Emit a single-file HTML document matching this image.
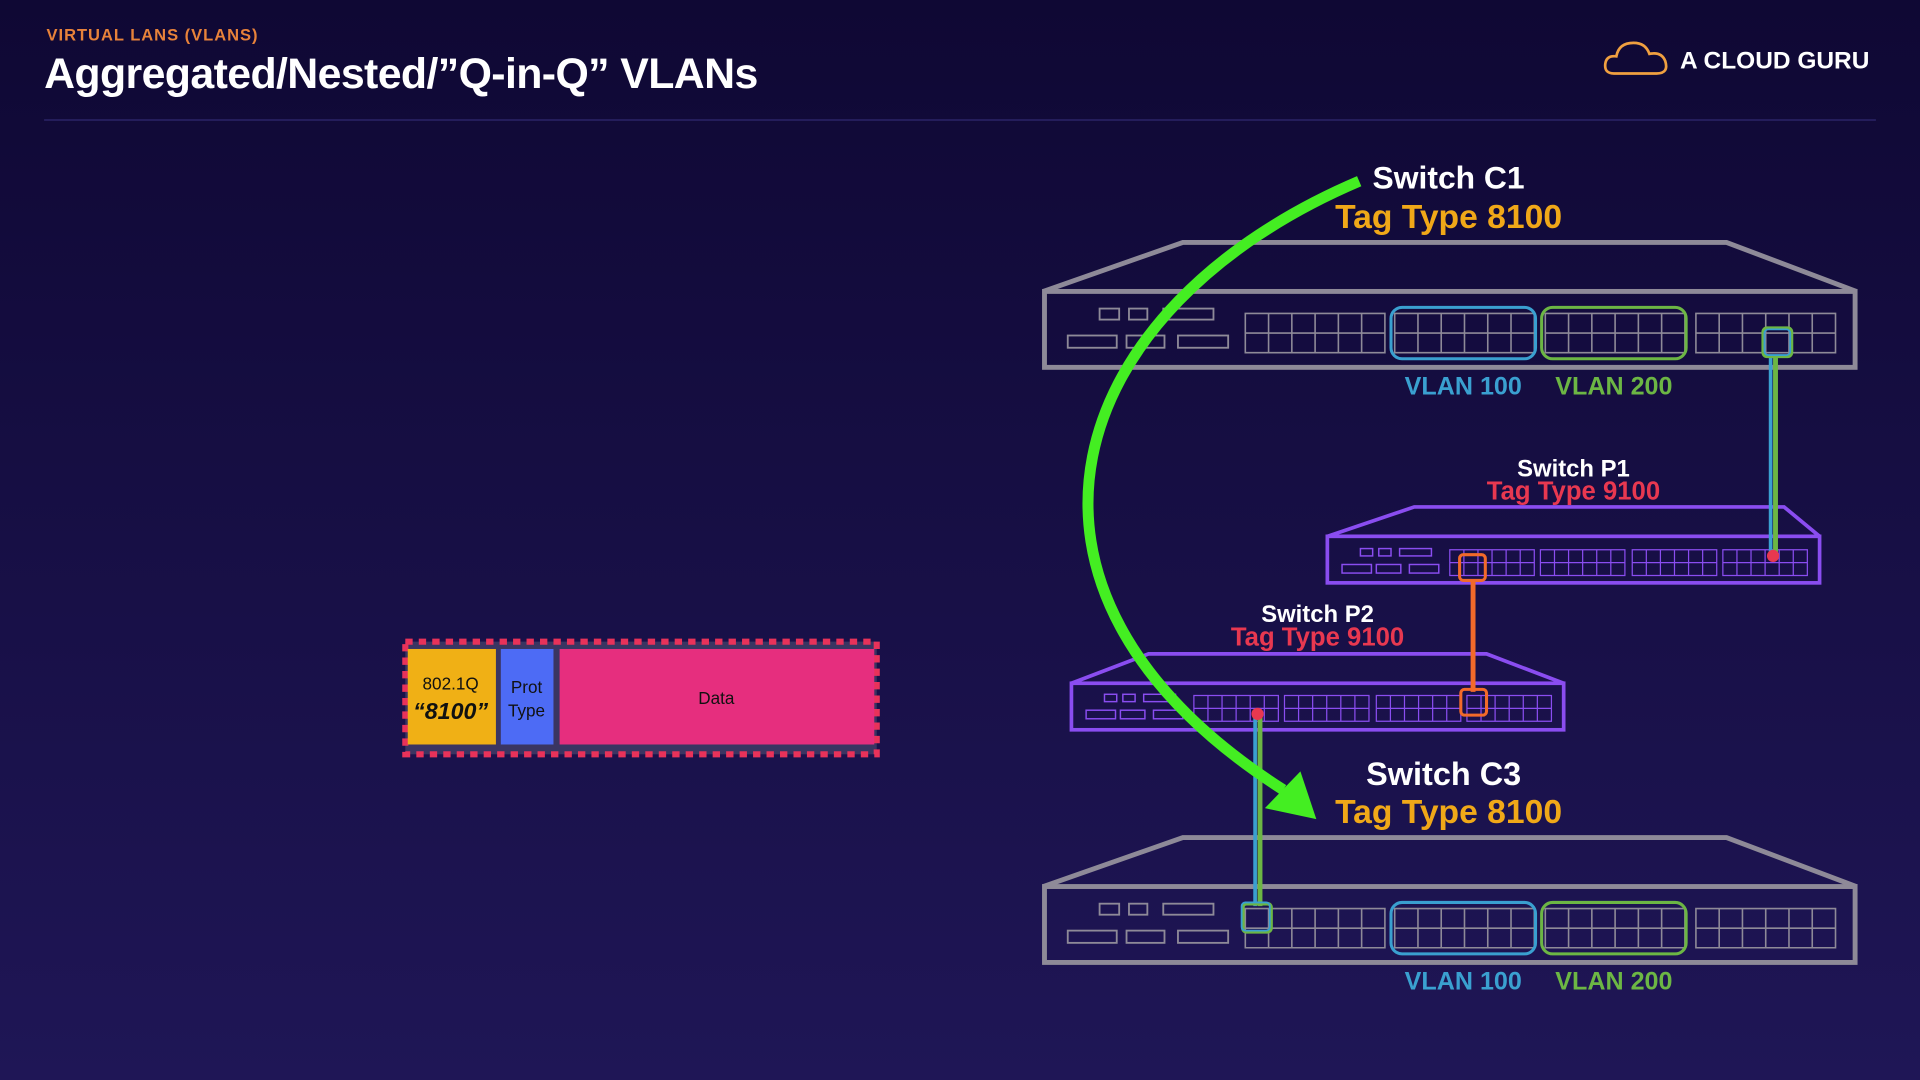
<!DOCTYPE html>
<html><head><meta charset="utf-8"><style>
html,body{margin:0;padding:0;width:1920px;height:1080px;overflow:hidden;background:#150c42}
svg{display:block}
text{font-family:"Liberation Sans",sans-serif;font-weight:bold}
</style></head><body>
<svg width="1920" height="1080" viewBox="0 0 1568 882" xmlns="http://www.w3.org/2000/svg">
<defs>
<linearGradient id="bg" x1="0" y1="0" x2="0" y2="1"><stop offset="0" stop-color="#0f0834"/><stop offset="1" stop-color="#1f1656"/></linearGradient>
<path id="gC" d="M0 0h114v32h-114z M19 0v32 M38 0v32 M57 0v32 M76 0v32 M95 0v32 M0 16h114" fill="none" stroke-width="1.3"/>
<path id="gS" d="M0 0h69v21h-69z M11.5 0v21 M23 0v21 M34.5 0v21 M46 0v21 M57.5 0v21 M0 10.5h69" fill="none" stroke-width="1"/>
</defs>
<rect width="1568" height="882" fill="url(#bg)"/>
<!-- header -->
<text x="38" y="33" fill="#e8823a" font-size="13.5" letter-spacing="0.8">VIRTUAL LANS (VLANS)</text>
<text x="36" y="72" fill="#fff" font-size="35" letter-spacing="-0.5">Aggregated/Nested/”Q-in-Q” VLANs</text>
<line x1="36" y1="98" x2="1532" y2="98" stroke="#272060" stroke-width="1.5"/>
<path d="M1318 60 q-8 0 -7 -8 q1 -7 9 -6 q2 -11 14 -11 q10 0 13 9 q10 -2 13 6 q3 10 -7 10 z" fill="none" stroke="#f0a040" stroke-width="2.2"/>
<text x="1372" y="56" fill="#fff" font-size="20">A CLOUD GURU</text>

<!-- frame -->
<rect x="331" y="524" width="385" height="92" fill="#3a3562"/>
<rect x="331" y="524" width="385" height="92" fill="none" stroke="#e8325a" stroke-width="5" stroke-dasharray="6 5"/>
<rect x="333" y="530" width="72" height="78" fill="#f0b015"/>
<rect x="409" y="530" width="43" height="78" fill="#4d6bf5"/>
<rect x="457" y="530" width="257" height="78" fill="#e62e7e"/>
<text x="368" y="563" fill="#111" font-size="14" text-anchor="middle" style="font-weight:normal">802.1Q</text>
<text x="368" y="587" fill="#111" font-size="19" text-anchor="middle" font-style="italic">“8100”</text>
<text x="430" y="566" fill="#111" font-size="14" text-anchor="middle" style="font-weight:normal">Prot</text>
<text x="430" y="585" fill="#111" font-size="14" text-anchor="middle" style="font-weight:normal">Type</text>
<text x="585" y="575" fill="#111" font-size="14" text-anchor="middle" style="font-weight:normal">Data</text>

<!-- Switch C1 -->
<g stroke="#8e8a98" fill="none">
<path d="M852 238 L966 198 L1410 198 L1516 238" stroke-width="4"/>
<rect x="853" y="238" width="662" height="62" stroke-width="4"/>
<g stroke-width="1.5"><rect x="898" y="252" width="16" height="9"/><rect x="922" y="252" width="15" height="9"/><rect x="950" y="252" width="41" height="9"/>
<rect x="872" y="274" width="40" height="10"/><rect x="920" y="274" width="31" height="10"/><rect x="962" y="274" width="41" height="10"/></g>
<use href="#gC" x="1017" y="256"/><use href="#gC" x="1139" y="256"/><use href="#gC" x="1262" y="256"/><use href="#gC" x="1385" y="256"/>
</g>
<rect x="1136" y="251" width="118" height="42" rx="9" fill="none" stroke="#3aa0d0" stroke-width="2.5"/>
<rect x="1259" y="251" width="118" height="42" rx="9" fill="none" stroke="#6cb644" stroke-width="2.5"/>
<text x="1195" y="322" fill="#3aa0d0" font-size="20.5" text-anchor="middle">VLAN 100</text>
<text x="1318" y="322" fill="#6cb644" font-size="20.5" text-anchor="middle">VLAN 200</text>

<!-- Switch C3 -->
<g stroke="#8e8a98" fill="none">
<path d="M852 724 L966 684 L1410 684 L1516 724" stroke-width="4"/>
<rect x="853" y="724" width="662" height="62" stroke-width="4"/>
<g stroke-width="1.5"><rect x="898" y="738" width="16" height="9"/><rect x="922" y="738" width="15" height="9"/><rect x="950" y="738" width="41" height="9"/>
<rect x="872" y="760" width="40" height="10"/><rect x="920" y="760" width="31" height="10"/><rect x="962" y="760" width="41" height="10"/></g>
<use href="#gC" x="1017" y="742"/><use href="#gC" x="1139" y="742"/><use href="#gC" x="1262" y="742"/><use href="#gC" x="1385" y="742"/>
</g>
<rect x="1136" y="737" width="118" height="42" rx="9" fill="none" stroke="#3aa0d0" stroke-width="2.5"/>
<rect x="1259" y="737" width="118" height="42" rx="9" fill="none" stroke="#6cb644" stroke-width="2.5"/>
<text x="1195" y="808" fill="#3aa0d0" font-size="20.5" text-anchor="middle">VLAN 100</text>
<text x="1318" y="808" fill="#6cb644" font-size="20.5" text-anchor="middle">VLAN 200</text>

<!-- Switch P1 -->
<g stroke="#8a4df0" fill="none">
<path d="M1084 438 L1155 414 L1457 414 L1486 438" stroke-width="3"/>
<rect x="1084" y="438" width="402" height="38" stroke-width="3"/>
<g stroke-width="1.2"><rect x="1111" y="448" width="10" height="6"/><rect x="1126" y="448" width="10" height="6"/><rect x="1143" y="448" width="26" height="6"/>
<rect x="1096" y="461" width="24" height="7"/><rect x="1124" y="461" width="20" height="7"/><rect x="1151" y="461" width="24" height="7"/></g>
<use href="#gS" x="1184" y="449"/><use href="#gS" x="1258" y="449"/><use href="#gS" x="1333" y="449"/><use href="#gS" x="1407" y="449"/>
</g>
<!-- Switch P2 -->
<g stroke="#8a4df0" fill="none">
<path d="M875 558 L938 534 L1214 534 L1277 558" stroke-width="3"/>
<rect x="875" y="558" width="402" height="38" stroke-width="3"/>
<g stroke-width="1.2"><rect x="902" y="567" width="10" height="6"/><rect x="917" y="567" width="10" height="6"/><rect x="934" y="567" width="26" height="6"/>
<rect x="887" y="580" width="24" height="7"/><rect x="915" y="580" width="20" height="7"/><rect x="942" y="580" width="24" height="7"/></g>
<use href="#gS" x="975" y="568"/><use href="#gS" x="1049" y="568"/><use href="#gS" x="1124" y="568"/><use href="#gS" x="1198" y="568"/>
</g>
<text x="1285" y="389" fill="#fff" font-size="19.5" text-anchor="middle">Switch P1</text>
<text x="1285" y="408" fill="#e83850" font-size="21" text-anchor="middle">Tag Type 9100</text>
<text x="1076" y="508" fill="#fff" font-size="19.5" text-anchor="middle">Switch P2</text>
<text x="1076" y="527" fill="#e83850" font-size="21" text-anchor="middle">Tag Type 9100</text>

<!-- connectors -->
<line x1="1446" y1="290" x2="1446" y2="454" stroke="#3aa0d0" stroke-width="3"/>
<line x1="1450" y1="290" x2="1450" y2="454" stroke="#6cb644" stroke-width="4"/>
<rect x="1440" y="268" width="23" height="23" rx="3" fill="none" stroke="#6cb644" stroke-width="3"/>
<rect x="1441" y="269" width="21" height="21" rx="3" fill="none" stroke="#3aa0d0" stroke-width="1.5"/>
<circle cx="1448" cy="454" r="5" fill="#e83850"/>
<line x1="1203" y1="474" x2="1203" y2="565" stroke="#f26a2a" stroke-width="4"/>
<rect x="1192" y="453" width="21" height="21" rx="3" fill="none" stroke="#f26a2a" stroke-width="2.5"/>
<rect x="1193" y="563" width="21" height="21" rx="3" fill="none" stroke="#f26a2a" stroke-width="2.5"/>
<line x1="1025" y1="584" x2="1025" y2="740" stroke="#3aa0d0" stroke-width="3"/>
<line x1="1029" y1="584" x2="1029" y2="740" stroke="#6cb644" stroke-width="4"/>
<rect x="1015" y="738" width="23" height="23" rx="3" fill="none" stroke="#6cb644" stroke-width="3"/>
<rect x="1014" y="737" width="23" height="23" rx="3" fill="none" stroke="#3aa0d0" stroke-width="1.5"/>
<circle cx="1027" cy="583" r="5" fill="#e83850"/>

<!-- green arrow -->
<path d="M1110 148 C 870 250, 790 480, 1048 645" fill="none" stroke="#44ee22" stroke-width="9"/>
<polygon points="1075,669 1033,660 1062,630" fill="#44ee22"/>

<!-- big labels -->
<text x="1183" y="154" fill="#fff" font-size="26" text-anchor="middle">Switch C1</text>
<text x="1183" y="186" fill="#f0a818" font-size="27.5" text-anchor="middle">Tag Type 8100</text>
<text x="1179" y="641" fill="#fff" font-size="26.5" text-anchor="middle">Switch C3</text>
<text x="1183" y="672" fill="#f0a818" font-size="27.5" text-anchor="middle">Tag Type 8100</text>
</svg>
</body></html>
